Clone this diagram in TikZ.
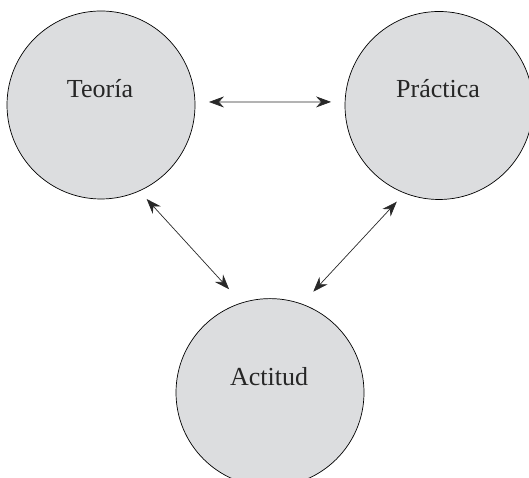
\documentclass[tikz,border=0pt]{standalone}
\usepackage{fontspec}
\setmainfont{Liberation Serif}
\usetikzlibrary{arrows.meta,calc}
\definecolor{circfill}{RGB}{220,221,223}
\definecolor{arrowgray}{RGB}{40,40,40}
\tikzset{
  bubble/.style={circle, draw=black, line width=0.7pt, fill=circfill, minimum size=188pt, inner sep=0pt},
  lbl/.style={anchor=base, font=\fontsize{26}{30}\selectfont, text=black!85, inner sep=0pt},
  link/.style={draw=arrowgray, line width=0.7pt, {Stealth[length=15pt,width=11pt,inset=5pt]}-{Stealth[length=15pt,width=11pt,inset=5pt]}}
}
\begin{document}
\begin{tikzpicture}[x=1pt,y=1pt]
\useasboundingbox (0,0) rectangle (529,478);
\node[bubble] (teoria) at (101,373) {};
\node[bubble] (practica) at (439,372.5) {};
\node[bubble] (actitud) at (270,85.4) {};
\node[lbl] (tTeoria) at (100,380) {Teoría};
\node[lbl] (tPractica) at (438,380) {Práctica};
\node[lbl] (tActitud) at (269,92.4) {Actitud};
\draw[link] ($(teoria)+(1.6:108)$) -- ($(practica)+(178.1:108)$);
\draw[link] ($(teoria)+(-64.1:104.5)$) -- ($(actitud)+(111.6:111.1)$);
\draw[link] ($(practica)+(-113.7:105.1)$) -- ($(actitud)+(66.8:109.8)$);
\end{tikzpicture}
\end{document}
